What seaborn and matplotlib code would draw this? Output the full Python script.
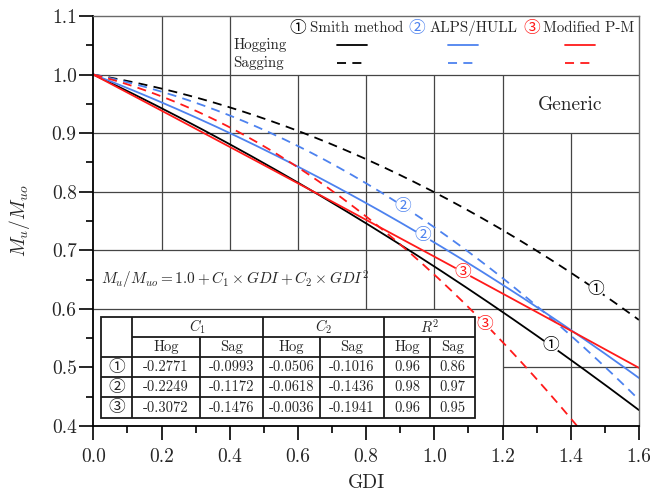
import numpy as np
import pandas as pd
import matplotlib
matplotlib.use("Agg")
import matplotlib.pyplot as plt
import seaborn as sns
from matplotlib.ticker import MultipleLocator, FormatStrFormatter
from matplotlib.patches import Rectangle

# ---------------- data ----------------
methods = ["Smith method", "ALPS/HULL", "Modified P-M"]
marks = ["\u2460", "\u2461", "\u2462"]
C1_hog = [-0.2771, -0.2249, -0.3072]
C1_sag = [-0.0993, -0.1172, -0.1476]
C2_hog = [-0.0506, -0.0618, -0.0036]
C2_sag = [-0.1016, -0.1436, -0.1941]
R2_hog = [0.96, 0.98, 0.96]
R2_sag = [0.86, 0.97, 0.95]
x_ticks = [0.0, 0.2, 0.4, 0.6, 0.8, 1.0, 1.2, 1.4, 1.6]
y_ticks = [0.4, 0.5, 0.6, 0.7, 0.8, 0.9, 1.0, 1.1]

colors = {"Smith method": "black", "ALPS/HULL": "#4d82ef", "Modified P-M": "#ff1a1a"}

# curves defined by the chart's own fit: Mu/Muo = 1 + C1*GDI + C2*GDI^2
gdi = np.linspace(0.0, 1.6, 161)
rows = []
for i, m in enumerate(methods):
    for cond, c1, c2 in (("Hogging", C1_hog[i], C2_hog[i]), ("Sagging", C1_sag[i], C2_sag[i])):
        for g in gdi:
            rows.append({"GDI": g, "ratio": 1.0 + c1 * g + c2 * g * g, "method": m, "cond": cond})
df = pd.DataFrame(rows)

def curve(i, cond, g):
    c1 = C1_hog[i] if cond == "Hogging" else C1_sag[i]
    c2 = C2_hog[i] if cond == "Hogging" else C2_sag[i]
    return 1.0 + c1 * g + c2 * g * g

# ---------------- style ----------------
sns.set_theme(style="white")
plt.rcParams["font.family"] = ["cmr10", "Noto Sans CJK JP"]
plt.rcParams["mathtext.fontset"] = "cm"
plt.rcParams["axes.unicode_minus"] = False
plt.rcParams["axes.formatter.use_mathtext"] = True

fig = plt.figure(figsize=(6.5, 4.94), dpi=100)
ax = fig.add_axes([0.1436, 0.1377, 0.8394, 0.8299])

# ---------------- irregular grid ----------------
gc, gw = "#454545", 0.9
for xv, y0, y1 in [(0.2, 0.7, 1.1), (0.4, 0.7, 1.1), (0.6, 0.7, 1.0), (0.8, 0.6, 1.0),
                   (1.0, 0.6, 1.0), (1.2, 0.4, 1.0), (1.4, 0.4, 0.9)]:
    ax.vlines(xv, y0, y1, colors=gc, lw=gw, zorder=0.5)
for yv, x0, x1 in [(1.0, 0, 1.6), (0.9, 0, 1.6), (0.8, 0, 1.6), (0.7, 0, 1.6),
                   (0.6, 0, 1.6), (0.5, 1.2, 1.6)]:
    ax.hlines(yv, x0, x1, colors=gc, lw=gw, zorder=0.5)

# ---------------- curves ----------------
sns.lineplot(data=df, x="GDI", y="ratio", hue="method", style="cond",
             palette=colors, dashes={"Hogging": "", "Sagging": (5, 3.5)},
             errorbar=None, legend=False, lw=1.3, ax=ax, zorder=2)

# circled labels on curves
cfs = 12
for i, cond, xv in [(1, "Sagging", 0.908), (1, "Hogging", 0.967), (2, "Hogging", 1.084),
                    (2, "Sagging", 1.149), (0, "Sagging", 1.474), (0, "Hogging", 1.342)]:
    ax.text(xv, curve(i, cond, xv), marks[i], color=colors[methods[i]], fontsize=cfs,
            ha="center", va="center", zorder=3,
            bbox=dict(boxstyle="circle,pad=0.0", fc="white", ec="none"))

# ---------------- axes ----------------
ax.set_xlim(0, 1.6)
ax.set_ylim(0.4, 1.1)
ax.set_xticks(x_ticks)
ax.set_yticks(y_ticks)
ax.xaxis.set_minor_locator(MultipleLocator(0.1))
ax.yaxis.set_minor_locator(MultipleLocator(0.05))
ax.xaxis.set_major_formatter(FormatStrFormatter("%.1f"))
ax.yaxis.set_major_formatter(FormatStrFormatter("%.1f"))
ax.tick_params(which="major", direction="out", length=10, width=1.2, color="black",
               labelsize=14, bottom=True, left=True, top=False, right=False)
ax.tick_params(axis="x", which="major", pad=6)
ax.tick_params(axis="y", which="major", pad=2)
ax.tick_params(which="minor", direction="out", length=5, width=1.2, color="black",
               bottom=True, left=True, top=False, right=False)
for s in ("left", "bottom"):
    ax.spines[s].set_color("black")
    ax.spines[s].set_linewidth(1.3)
for s in ("top", "right"):
    ax.spines[s].set_color("#6a6a6a")
    ax.spines[s].set_linewidth(1.0)
ax.set_xlabel("GDI", fontsize=14, labelpad=6)
ax.set_ylabel(r"$M_u/M_{uo}$", fontsize=14, labelpad=14)

# ---------------- legend block ----------------
lfs = 10.8
ax.text(0.41, 1.0505, "Hogging", fontsize=lfs, ha="left", va="center")
ax.text(0.41, 1.0198, "Sagging", fontsize=lfs, ha="left", va="center")
for i, (cx_, tx) in enumerate([(0.598, 0.635), (0.949, 0.987), (1.285, 1.320)]):
    ax.text(cx_, 1.0795, marks[i], color=colors[methods[i]], fontsize=cfs, ha="center", va="center")
    ax.text(tx, 1.0795, methods[i], fontsize=lfs, ha="left", va="center")
for i, (x0, x1) in enumerate([(0.714, 0.802), (1.040, 1.128), (1.383, 1.471)]):
    c = colors[methods[i]]
    ax.plot([x0, x1], [1.0505, 1.0505], color=c, lw=1.3)
    ax.plot([x0, x1], [1.0198, 1.0198], color=c, lw=1.3, dashes=(5, 3.5))

ax.text(1.398, 0.948, "Generic", fontsize=14, ha="center", va="center")
ax.text(0.023, 0.649, r"$M_u/M_{uo}=1.0+C_1\times GDI+C_2\times GDI^2$",
        fontsize=11, ha="left", va="center")

# ---------------- table ----------------
cx = [0.0226, 0.1144, 0.3120, 0.4968, 0.6648, 0.8525, 0.9865, 1.1194]
ry = [0.5861, 0.5514, 0.5173, 0.4831, 0.4490, 0.4136]
tc, tw = "#1a1a1a", 1.3
ax.add_patch(Rectangle((cx[0], ry[-1]), cx[-1] - cx[0], ry[0] - ry[-1],
                       fc="white", ec=tc, lw=tw, zorder=4))
ax.hlines(ry[1], cx[1], cx[-1], colors=tc, lw=tw, zorder=5)
for yv in ry[2:-1]:
    ax.hlines(yv, cx[0], cx[-1], colors=tc, lw=tw, zorder=5)
for xv in (cx[1], cx[3], cx[5]):
    ax.vlines(xv, ry[-1], ry[0], colors=tc, lw=tw, zorder=5)
for xv in (cx[2], cx[4], cx[6]):
    ax.vlines(xv, ry[-1], ry[1], colors=tc, lw=tw, zorder=5)

tfs = 10.5
hy = (ry[0] + ry[1]) / 2
for j, h in enumerate([r"$C_1$", r"$C_2$", r"$R^2$"]):
    ax.text((cx[1 + 2 * j] + cx[3 + 2 * j]) / 2, hy, h, fontsize=tfs, ha="center", va="center", zorder=6)
sy = (ry[1] + ry[2]) / 2
for k in range(6):
    ax.text((cx[1 + k] + cx[2 + k]) / 2, sy, ["Hog", "Sag"][k % 2], fontsize=tfs,
            ha="center", va="center", zorder=6)
for i in range(3):
    yy = (ry[2 + i] + ry[3 + i]) / 2
    vals = [f"{C1_hog[i]:.4f}", f"{C1_sag[i]:.4f}", f"{C2_hog[i]:.4f}", f"{C2_sag[i]:.4f}",
            f"{R2_hog[i]:.2f}", f"{R2_sag[i]:.2f}"]
    ax.text((cx[0] + cx[1]) / 2, yy, marks[i], fontsize=cfs, ha="center", va="center", zorder=6)
    for k, v in enumerate(vals):
        ax.text((cx[1 + k] + cx[2 + k]) / 2, yy, v, fontsize=tfs, ha="center", va="center", zorder=6)

fig.savefig("out.png", dpi=100)
